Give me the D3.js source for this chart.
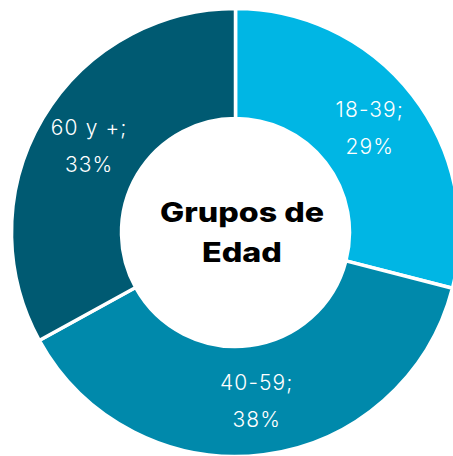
<!DOCTYPE html>
<html>
<head>
<meta charset="utf-8">
<script src="https://cdn.jsdelivr.net/npm/d3@7"></script>
<style>
  body { margin: 0; background: #fff; }
  svg { display: block; }
</style>
</head>
<body>
<svg width="453" height="456"></svg>
<script>
var categories = ["18-39", "40-59", "60 y +"]
var values = [29, 38, 33]
var colors = ["#00b6e4", "#0089ab", "#005a72"]
var titleLines = ["Grupos de", "Edad"]

var width = 453, height = 456
var cx = 235.5, cy = 232.5
var outerR = 224, innerR = 114

var svg = d3.select("svg")
var g = svg.append("g").attr("transform", "translate(" + cx + "," + cy + ")")

var pie = d3.pie().sort(null).value(function(d) { return d.value })
var data = pie(categories.map(function(c, i) { return {name: c, value: values[i], color: colors[i]} }))

var arc = d3.arc().innerRadius(innerR).outerRadius(outerR)
var labelArc = d3.arc().innerRadius(170).outerRadius(170)

g.selectAll("path")
  .data(data)
  .join("path")
  .attr("d", arc)
  .attr("fill", function(d) { return d.data.color })
  .attr("stroke", "#fff")
  .attr("stroke-width", 3.5)

var labels = g.selectAll("text.lbl")
  .data(data)
  .join("text")
  .attr("class", "lbl")
  .attr("transform", function(d) { return "translate(" + labelArc.centroid(d) + ")" })
  .attr("text-anchor", "middle")
  .attr("fill", "#fff")
  .style("font-family", "Inter, 'Noto Sans', sans-serif")
  .style("font-weight", 300)
  .style("font-size", "21px")
  .style("letter-spacing", "1.1px")

labels.append("tspan").attr("x", 0).attr("y", -11).text(function(d) { return d.data.name + ";" })
labels.append("tspan").attr("x", 0).attr("y", 26).text(function(d) { return d.data.value + "%" })

// poppins-like wide bold title, stretched to the width it has in the picture
var title = g.append("text")
  .attr("transform", "translate(6.5,0)")
  .attr("text-anchor", "middle")
  .attr("fill", "#000")
  .style("font-family", "Inter, 'Noto Sans', sans-serif")
  .style("font-weight", 800)
  .style("font-size", "27px")
title.append("tspan").attr("x", 0).attr("y", -10.5)
  .attr("textLength", 164).attr("lengthAdjust", "spacingAndGlyphs").text(titleLines[0])
title.append("tspan").attr("x", 0).attr("y", 29.5)
  .attr("textLength", 80).attr("lengthAdjust", "spacingAndGlyphs").text(titleLines[1])
</script>
</body>
</html>
